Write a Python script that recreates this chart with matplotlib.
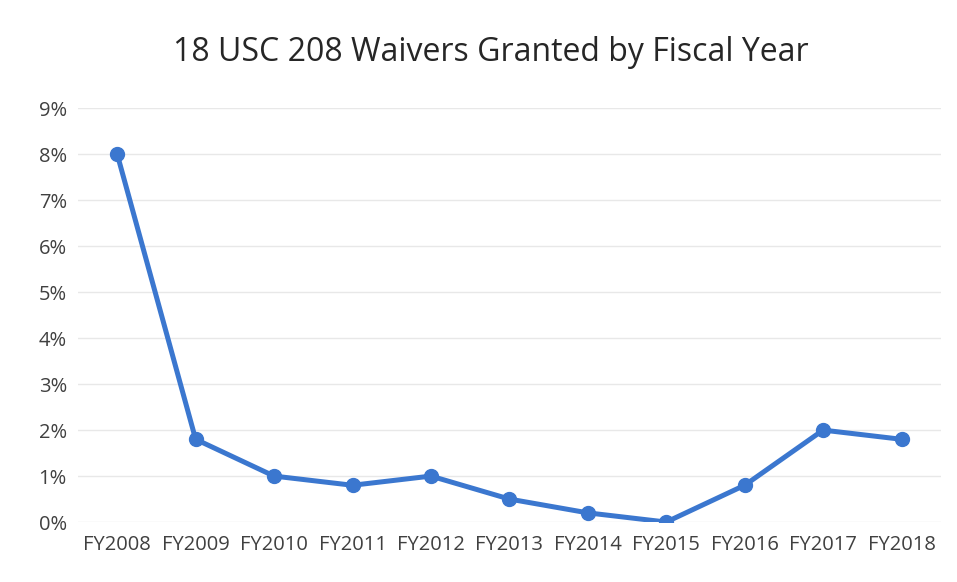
import matplotlib.pyplot as plt
from matplotlib.ticker import FuncFormatter

years = ["FY2008", "FY2009", "FY2010", "FY2011", "FY2012", "FY2013",
         "FY2014", "FY2015", "FY2016", "FY2017", "FY2018"]
waivers_pct = [8.0, 1.8, 1.0, 0.8, 1.0, 0.5, 0.2, 0.0, 0.8, 2.0, 1.8]

plt.rcParams['font.family'] = ['Open Sans', 'DejaVu Sans']

fig = plt.figure(figsize=(9.57, 5.82), dpi=100)
ax = fig.add_axes([0.0815, 0.103, 0.9015, 0.711])

x = list(range(len(years)))
ax.plot(x, waivers_pct, color='#3b77cf', lw=3.6, marker='o', ms=10,
        solid_capstyle='round', solid_joinstyle='round')

ax.set_xlim(-0.5, len(years) - 0.5)
ax.set_ylim(0, 9)
ax.set_yticks(range(0, 10))
ax.yaxis.set_major_formatter(FuncFormatter(lambda v, p: f"{int(v)}%"))
ax.set_xticks(x)
ax.set_xticklabels(years)
ax.grid(axis='y', color='#e8e8e8', lw=1)
ax.set_axisbelow(True)
for s in ax.spines.values():
    s.set_visible(False)
ax.tick_params(length=0, labelsize=14.5, colors='#404040', pad=9)
ax.tick_params(axis='y', pad=8)

fig.text(0.513, 0.91, "18 USC 208 Waivers Granted by Fiscal Year",
         ha='center', va='center', fontsize=23, color='#262626')

fig.savefig("out.png", dpi=100)
